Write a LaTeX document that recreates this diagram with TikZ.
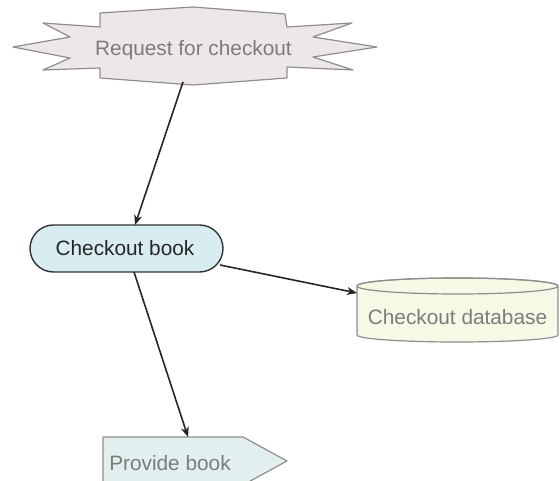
\documentclass[tikz,border=0pt]{standalone}
\usepackage{fontspec}
\setmainfont{Liberation Sans}
\usetikzlibrary{arrows.meta,shapes.misc}
\definecolor{starfill}{HTML}{EEE7E8}
\definecolor{shapeedge}{HTML}{8E8E8E}
\definecolor{graytext}{HTML}{7C7C7C}
\definecolor{cbfill}{HTML}{D7EDF1}
\definecolor{dbfill}{HTML}{F7F8E5}
\definecolor{pbfill}{HTML}{E1EFEF}
\tikzset{
  lbl/.style={anchor=base,inner sep=0pt,font=\fontsize{20.8}{24}\selectfont},
  graylbl/.style={lbl,text=graytext},
  soft/.style={draw=shapeedge,line width=1.2pt,line join=round},
  conn/.style={draw=black!85,line width=1.6pt,-{Stealth[length=10pt,width=8pt,inset=3pt]}},
}
\begin{document}
\begin{tikzpicture}[x=1pt,y=-1pt]
\useasboundingbox (0,0) rectangle (560,481);
\clip (0,0) rectangle (560,481);
% starburst
\path[soft,fill=starfill] (100,13) -- (193,7) -- (285,14) -- (287,27) -- (352,23) -- (313,37) -- (377,47) -- (313,57) -- (353,70) -- (287,67) -- (287,78) -- (193,85) -- (100,78) -- (100,68) -- (43,70) -- (70,58) -- (13,47) -- (70,37) -- (43,23) -- (100,27) -- cycle;
\node[graylbl] (rq) at (193.5,56) {Request for checkout};
% checkout book
\node[rounded rectangle,draw=black!80,line width=1.4pt,fill=cbfill,minimum width=193pt,minimum height=47pt,inner sep=0pt] (cb) at (126.5,248.5) {};
\node[lbl,text=black!85] (cbt) at (125,256) {Checkout book};
% database cylinder
\path[soft,fill=dbfill] (357,286) -- (357,335) arc[start angle=180,end angle=360,x radius=100.5pt,y radius=7pt] -- (558,286) arc[start angle=0,end angle=180,x radius=100.5pt,y radius=8pt] -- cycle;
\path[soft] (457.5,286) ellipse[x radius=100.5pt,y radius=8pt];
\node[graylbl] (db) at (457.5,325) {Checkout database};
% provide book
\path[soft,fill=pbfill] (103,437) -- (243,437) -- (287,461) -- (243,485) -- (103,485) -- cycle;
\node[graylbl] (pb) at (170,470) {Provide book};
% connector end points
\coordinate (rqb) at (183,82);
\coordinate (cbtop) at (135,225);
\coordinate (cbr) at (220,265);
\coordinate (dbl) at (357,293);
\coordinate (cbb) at (134,272);
\coordinate (pbt) at (188,437);
\draw[conn] (rqb) -- (cbtop);
\draw[conn] (cbr) -- (dbl);
\draw[conn] (cbb) -- (pbt);
\end{tikzpicture}
\end{document}
